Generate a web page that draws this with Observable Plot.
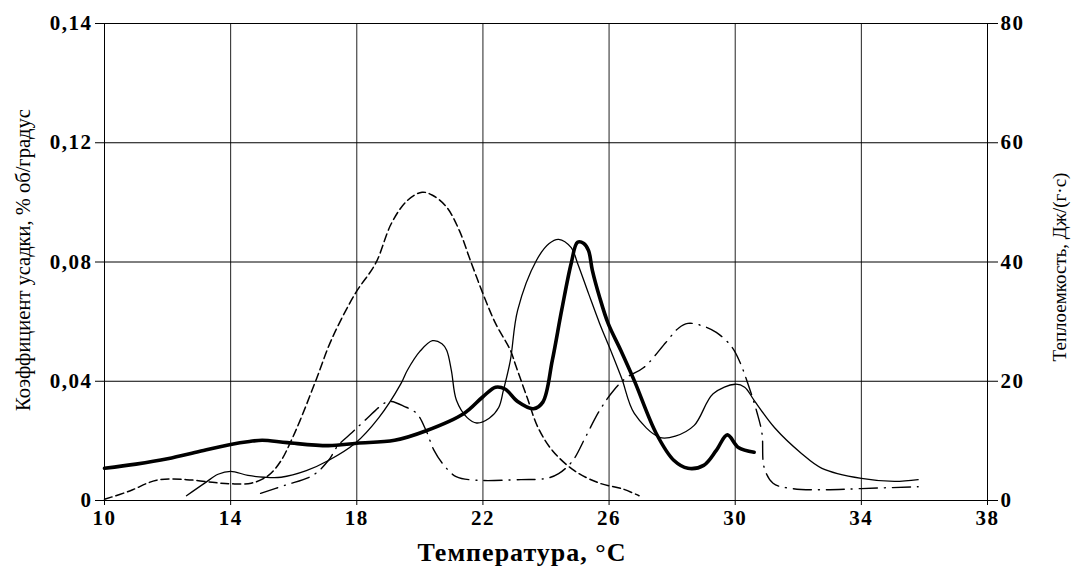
<!DOCTYPE html>
<html>
<head>
<meta charset="utf-8">
<script src="https://cdn.jsdelivr.net/npm/d3@7"></script>
<script src="https://cdn.jsdelivr.net/npm/@observablehq/plot@0.6"></script>
<style>
  html, body { margin: 0; padding: 0; background: #fff; }
  #chart svg { display: block; }
</style>
</head>
<body>
<div id="chart"></div>
<script>
// X axis (temperature) ticks
const xTicks = [10, 14, 18, 22, 26, 30, 34, 38];
// Right-axis ticks (heat capacity) and the left-axis labels that sit on the same lines
const yTicks = [0, 20, 40, 60, 80];
const leftLabels = ["0", "0,04", "0,08", "0,12", "0,14"];
const rightLabels = ["0", "20", "40", "60", "80"];

const xTitle = "Температура, °C";
const leftTitle = "Коэффициент усадки, % об/градус";
const rightTitle = "Теплоемкость, Дж/(г·с)";

// Thick solid curve [T, value in right-axis units]
const thickCurve = [
  [10, 5.4], [11, 6.1], [12, 7.0], [13, 8.2], [14, 9.4], [14.6, 9.9], [15, 10.1], [15.8, 9.7],
  [17.1, 9.2], [18, 9.6], [19.2, 10.1], [20.2, 11.7], [21.4, 14.6], [22, 17.4], [22.4, 19],
  [22.7, 18.7], [23.1, 16.6], [23.6, 15.4], [23.9, 16.5], [24.2, 23.5], [24.5, 32],
  [24.8, 39.8], [25.0, 43.3], [25.2, 43.1], [25.35, 41.9], [25.47, 38.6], [25.7, 34.1],
  [25.97, 29.7], [26.37, 25.2], [26.8, 20.1], [27.5, 11.2], [28.06, 6.7], [28.5, 5.4],
  [29.0, 5.9], [29.4, 8.4], [29.75, 11], [30.1, 8.9], [30.6, 8.1]
];

// Thin solid curve
const thinCurve = [
  [12.6, 0.8], [13.2, 3.0], [13.6, 4.4], [14, 4.9], [14.55, 4.2], [15.07, 3.9], [15.6, 3.9],
  [16.4, 5.0], [17.1, 6.7], [17.95, 9.6], [18.7, 13.9], [19.4, 19.6], [19.6, 21.8],
  [20.0, 25.0], [20.4, 26.8], [20.7, 26.3], [20.85, 25.2], [21.0, 21.8], [21.16, 16.8],
  [21.5, 13.9], [21.8, 13.0], [22.2, 13.8], [22.5, 15.6], [22.65, 18.5], [22.87, 23.5],
  [23.1, 31.9], [23.7, 40.3], [24.1, 43.1], [24.4, 43.8], [24.8, 42.4], [25.0, 39.8],
  [25.35, 34.7], [25.7, 29.7], [26.05, 25.2], [26.4, 20.5], [26.8, 14.6], [27.6, 10.6],
  [28.1, 10.8], [28.7, 12.6], [29.3, 17.9], [30, 19.5], [30.3, 19.0], [30.6, 16.8],
  [31.25, 12.2], [32.1, 7.9], [32.75, 5.4], [34, 3.7], [35.05, 3.2], [35.8, 3.5]
];

// Dashed curve
const dashedCurve = [
  [10, 0.2], [10.8, 1.6], [11.65, 3.4], [12.6, 3.5], [13.5, 3.0], [14, 2.8], [14.65, 2.9],
  [15.2, 4.2], [15.6, 6.7], [15.9, 9.8], [16.2, 13.4], [16.7, 20.1], [17.2, 27],
  [17.95, 34.7], [18.6, 39.8], [19.1, 46.5], [19.6, 50.3], [20.07, 51.7], [20.4, 51.2],
  [20.85, 49.2], [21.25, 45.3], [21.6, 40.3], [22.0, 34.7], [22.4, 29.7], [22.87, 25.2],
  [23.05, 22.5], [23.4, 17.3], [23.75, 12.2], [24.2, 8.4], [24.9, 5.0], [25.7, 2.9],
  [26.4, 2.0], [26.95, 0.8]
];

// Dash-dot curve
const dashDotCurve = [
  [14.95, 1.2], [15.75, 2.6], [16.6, 4.2], [17.1, 6.7], [17.4, 9.2], [17.85, 11.4],
  [18.25, 13.4], [18.9, 16.4], [19.1, 16.6], [19.5, 15.8], [19.9, 14.6], [20.2, 11.7],
  [20.45, 8.4], [20.75, 6.0], [21.15, 4.0], [21.8, 3.4], [23.2, 3.5], [24.0, 3.7],
  [24.4, 4.5], [24.85, 6.7], [25.25, 10.6], [25.7, 15.1], [26.15, 18.5], [26.55, 20.6],
  [27.1, 22.3], [27.8, 26.5], [28.2, 28.9], [28.5, 29.7], [28.9, 29.4], [29.4, 28.2],
  [29.9, 25.7], [30.15, 23.2], [30.37, 20.1], [30.7, 14.6], [30.85, 11.2], [30.92, 5.5],
  [31.2, 2.9], [31.8, 2.0], [32.85, 1.8], [34, 2.0], [35.8, 2.3]
];

const toRows = (arr) => arr.map(([t, v]) => ({t, v}));
const leftMap = new Map(yTicks.map((d, i) => [d, leftLabels[i]]));
const rightMap = new Map(yTicks.map((d, i) => [d, rightLabels[i]]));

const serif = "'Liberation Serif', 'Times New Roman', serif";

const chart = Plot.plot({
  width: 1074,
  height: 566,
  marginLeft: 104,
  marginRight: 87,
  marginTop: 23,
  marginBottom: 66,
  x: {domain: [10, 38]},
  y: {domain: [0, 80]},
  style: {fontFamily: serif, background: "#fff", color: "#000"},
  marks: [
    Plot.gridX({ticks: xTicks, stroke: "#222", strokeOpacity: 1, strokeWidth: 1}),
    Plot.gridY({ticks: yTicks, stroke: "#000", strokeOpacity: 1, strokeWidth: 1}),
    Plot.ruleX([10, 38], {stroke: "#000", strokeWidth: 1}),
    Plot.ruleY([0], {stroke: "#000", strokeWidth: 1}),
    Plot.axisX({ticks: xTicks, tickSize: 5, tickPadding: 5, fontSize: 21, fontWeight: "bold", label: null, tickFormat: d => String(d), className: "tk"}),
    Plot.axisY({anchor: "left", ticks: yTicks, tickSize: 9, tickPadding: 3, fontSize: 21, fontWeight: "bold", label: null, tickFormat: d => leftMap.get(d), className: "tk"}),
    Plot.axisY({anchor: "right", ticks: yTicks, tickSize: 10, tickPadding: 3, fontSize: 21, fontWeight: "bold", label: null, tickFormat: d => rightMap.get(d), className: "tk"}),
    Plot.line(toRows(dashedCurve), {x: "t", y: "v", curve: "catmull-rom", stroke: "#000", strokeWidth: 1.5, strokeDasharray: "8,4"}),
    Plot.line(toRows(dashDotCurve), {x: "t", y: "v", curve: "catmull-rom", stroke: "#000", strokeWidth: 1.4, strokeDasharray: "18,7,1,7"}),
    Plot.line(toRows(thinCurve), {x: "t", y: "v", curve: "catmull-rom", stroke: "#000", strokeWidth: 1.3}),
    Plot.line(toRows(thickCurve), {x: "t", y: "v", curve: "catmull-rom", stroke: "#000", strokeWidth: 3.6}),
    Plot.text([xTitle], {frameAnchor: "bottom", dx: -24, dy: 52, fontSize: 26, fontWeight: "bold", textAnchor: "middle", lineAnchor: "middle", className: "xt"}),
    Plot.text([leftTitle], {frameAnchor: "left", dx: -81, dy: -2, rotate: -90, fontSize: 20.5, textAnchor: "middle", lineAnchor: "middle"}),
    Plot.text([rightTitle], {frameAnchor: "right", dx: 72, dy: 5, rotate: -90, fontSize: 19, textAnchor: "middle", lineAnchor: "middle"})
  ]
});

// widen glyph spacing like the reference's stretched bitmap type
d3.select(chart).selectAll("g.tk text").attr("letter-spacing", "1.5px");
d3.select(chart).selectAll("g.xt text").attr("letter-spacing", "1px");

document.getElementById("chart").appendChild(chart);
</script>
</body>
</html>
